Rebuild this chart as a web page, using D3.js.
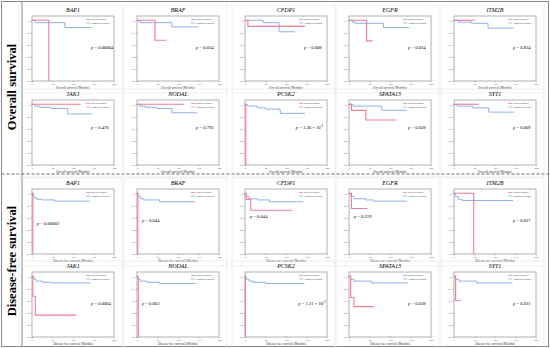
<!DOCTYPE html>
<html>
<head>
<meta charset="utf-8">
<script src="https://cdn.jsdelivr.net/npm/d3@7"></script>
<style>
body { margin: 0; background: #fff; }
text { font-family: "Liberation Serif", "DejaVu Serif", serif; }
</style>
</head>
<body>
<svg id="chart" width="550" height="348"></svg>
<script>
// gene panels, same order in both sections
var genes = ["BAP1", "BRAF", "CFDP1", "EGFR", "ITM2B", "JAK1", "NODAL", "PCSK2", "SPATA13", "SYT1"];

// log-rank p values ([mantissa, exponent] when written as a power of ten)
var osPvalues = ["0.00004", "0.034", "0.008", "0.034", "0.824", "0.470", "0.792", ["1.30", "-3"], "0.028", "0.009"];
var dfsPvalues = ["0.00002", "0.044", "0.044", "0.229", "0.027", "0.0004", "0.002", ["1.21", "-3"], "0.038", "0.021"];

// where the p value sits (fraction of plot width, fraction of plot height)
var osPpos = [[0.72, 0.5], [0.72, 0.5], [0.72, 0.5], [0.72, 0.5], [0.72, 0.5], [0.72, 0.45], [0.72, 0.45], [0.62, 0.45], [0.72, 0.45], [0.72, 0.45]];
var dfsPpos = [[0.06, 0.55], [0.06, 0.5], [0.06, 0.45], [0.06, 0.45], [0.72, 0.5], [0.72, 0.5], [0.06, 0.5], [0.65, 0.5], [0.72, 0.5], [0.72, 0.5]];

// Kaplan-Meier steps: [month, survival from that month on]; last point = end of follow-up
var osMutated = [
  [[0, 1], [41, 0]],
  [[0, 1], [44, 0.67], [72, 0.67]],
  [[0, 1], [7, 0.90], [146, 0.90]],
  [[0, 1], [43, 0.66], [57, 0.66]],
  [[0, 1], [51, 1]],
  [[0, 1], [119, 1]],
  [[0, 1], [115, 1]],
  [[0, 1], [2, 0]],
  [[0, 1], [6, 0.90], [41, 0.74], [115, 0.74]],
  [[0, 1], [60, 1]]
];
var osUnmutated = [
  [[0, 1], [7, 0.96], [80, 0.88], [145, 0.88]],
  [[0, 1], [5, 0.98], [9, 0.96], [85, 0.89], [150, 0.89]],
  [[0, 1], [44, 0.96], [83, 0.81], [122, 0.81]],
  [[0, 1], [8, 0.97], [16, 0.95], [84, 0.88], [147, 0.88]],
  [[0, 1], [10, 0.97], [43, 0.95], [83, 0.87], [145, 0.87]],
  [[0, 1], [6, 0.97], [18, 0.95], [47, 0.93], [87, 0.84], [146, 0.84]],
  [[0, 1], [6, 0.97], [20, 0.95], [48, 0.93], [85, 0.86], [146, 0.86]],
  [[0, 1], [6, 0.97], [30, 0.94], [50, 0.92], [86, 0.85], [146, 0.85]],
  [[0, 1], [10, 0.97], [80, 0.90], [140, 0.90]],
  [[0, 1], [8, 0.97], [45, 0.94], [85, 0.87], [146, 0.87]]
];
var dfsMutated = [
  [[0, 1], [2, 0]],
  [[0, 1], [2, 0]],
  [[0, 1], [3, 0.90], [14, 0.72], [115, 0.72]],
  [[0, 1], [6, 0.75], [45, 0.75]],
  [[0, 1], [48, 0]],
  [[0, 1], [2, 0.67], [8, 0.36], [108, 0.36]],
  [[0, 1], [3, 0]],
  [[0, 1], [1, 0]],
  [[0, 1], [4, 0.65], [12, 0.50], [60, 0.50]],
  [[0, 1], [4, 0.60], [16, 0.60]]
];
var dfsUnmutated = [
  [[0, 1], [3, 0.95], [6, 0.92], [12, 0.90], [25, 0.89], [55, 0.87], [142, 0.87]],
  [[0, 1], [3, 0.95], [8, 0.91], [15, 0.89], [55, 0.86], [142, 0.86]],
  [[0, 1], [3, 0.95], [10, 0.91], [30, 0.89], [60, 0.86], [142, 0.86]],
  [[0, 1], [4, 0.95], [12, 0.91], [40, 0.89], [60, 0.87], [142, 0.87]],
  [[0, 1], [3, 0.95], [10, 0.90], [20, 0.88], [144, 0.88]],
  [[0, 1], [5, 0.95], [10, 0.92], [25, 0.90], [50, 0.89], [143, 0.89]],
  [[0, 1], [3, 0.95], [8, 0.92], [25, 0.90], [55, 0.88], [143, 0.88]],
  [[0, 1], [3, 0.95], [10, 0.92], [20, 0.90], [50, 0.88], [145, 0.88]],
  [[0, 1], [4, 0.95], [12, 0.92], [55, 0.89], [143, 0.89]],
  [[0, 1], [4, 0.95], [12, 0.92], [55, 0.89], [143, 0.89]]
];

var xTicks = [0, 50, 100, 150, 200];
var yTicks = [0, 0.2, 0.4, 0.6, 0.8, 1.0];
var legendLabels = ["Mutated group", "Unmutated group"];
var sectionLabels = ["Overall survival", "Disease-free survival"];
var xLabels = ["Overall survival (Months)", "Disease-free survival (Months)"];

var colMut = "#f27c94", colUnmut = "#8fb1ea";

var svg = d3.select("#chart");

// outer frame and the section dividers
svg.append("rect").attr("x", 1.5).attr("y", 1.5).attr("width", 547).attr("height", 345)
  .attr("fill", "none").attr("stroke", "#888").attr("stroke-width", 1);
svg.append("line").attr("x1", 22).attr("x2", 22).attr("y1", 1.5).attr("y2", 346.5)
  .attr("stroke", "#888").attr("stroke-width", 1);
svg.append("line").attr("x1", 1.5).attr("x2", 548.5).attr("y1", 174).attr("y2", 174)
  .attr("stroke", "#666").attr("stroke-width", 1).attr("stroke-dasharray", "3,2");

sectionLabels.forEach(function(t, i) {
  svg.append("text")
    .attr("transform", "translate(16," + (i == 0 ? 87 : 261) + ") rotate(-90)")
    .attr("text-anchor", "middle")
    .attr("font-size", 12.5).attr("font-weight", "bold")
    .text(t);
});

// panel boxes (plot area)
var colX = [32, 137, 245, 349, 454];
var rowY = [16, 100, 189, 272];
var pw = 82, ph = 65;

var x = d3.scaleLinear().domain([0, 200]).range([0, pw]);
var y = d3.scaleLinear().domain([0, 1.07]).range([ph, 0]);

var line = d3.line()
  .x(function(d) { return x(d[0]); })
  .y(function(d) { return y(d[1]); })
  .curve(d3.curveStepAfter);

function drawPanel(gene, row, col, mut, unmut, p, ppos, xlab) {
  var g = svg.append("g").attr("transform", "translate(" + colX[col] + "," + rowY[row] + ")");

  // light frame of the sub-figure
  g.append("rect").attr("x", -13).attr("y", -11).attr("width", pw + 21).attr("height", ph + 23)
    .attr("fill", "none").attr("stroke", "#e4e4e4").attr("stroke-width", 0.6);

  g.append("text").attr("x", pw / 2).attr("y", -4)
    .attr("text-anchor", "middle").attr("font-size", 6).attr("font-style", "italic")
    .text(gene);

  g.append("rect").attr("width", pw).attr("height", ph)
    .attr("fill", "none").attr("stroke", "#666").attr("stroke-width", 0.5);

  var xa = g.append("g").attr("transform", "translate(0," + ph + ")")
    .call(d3.axisBottom(x).tickValues(xTicks).tickSize(1.2).tickPadding(0.8).tickFormat(d3.format("d")));
  var ya = g.append("g")
    .call(d3.axisLeft(y).tickValues(yTicks).tickSize(1.2).tickPadding(0.8).tickFormat(d3.format(".1f")));
  [xa, ya].forEach(function(a) {
    a.select(".domain").remove();
    a.selectAll("line").attr("stroke", "#666").attr("stroke-width", 0.4);
    a.selectAll("text").attr("font-size", 2.6).attr("fill", "#555").attr("font-family", "Liberation Sans, sans-serif");
  });

  g.append("text").attr("x", pw / 2).attr("y", ph + 7.5)
    .attr("text-anchor", "middle").attr("font-size", 3.2).attr("fill", "#333")
    .text(xlab);

  g.append("path").datum(unmut).attr("d", line)
    .attr("fill", "none").attr("stroke", colUnmut).attr("stroke-width", 1);
  g.append("path").datum(mut).attr("d", line)
    .attr("fill", "none").attr("stroke", colMut).attr("stroke-width", 1.1);

  // legend
  var lg = g.append("g").attr("transform", "translate(" + (pw * 0.66) + ",3.5)");
  [colMut, colUnmut].forEach(function(c, i) {
    lg.append("line").attr("x1", 0).attr("x2", 4).attr("y1", i * 3.5).attr("y2", i * 3.5)
      .attr("stroke", c).attr("stroke-width", 0.8);
    lg.append("text").attr("x", 5).attr("y", i * 3.5 + 0.9).attr("font-size", 2.6).attr("fill", "#444")
      .attr("font-family", "Liberation Sans, sans-serif")
      .text(legendLabels[i]);
  });

  var pt = g.append("text").attr("x", pw * ppos[0]).attr("y", ph * ppos[1])
    .attr("font-size", 4.6);
  pt.append("tspan").attr("font-style", "italic").text("p");
  if (Array.isArray(p)) {
    pt.append("tspan").text(" = " + p[0] + " \u00d7 10");
    pt.append("tspan").attr("font-size", 3).attr("dy", -1.8).text(p[1]);
  } else {
    pt.append("tspan").text(" = " + p);
  }
}

genes.forEach(function(gene, i) {
  var r = Math.floor(i / 5), c = i % 5;
  drawPanel(gene, r, c, osMutated[i], osUnmutated[i], osPvalues[i], osPpos[i], xLabels[0]);
  drawPanel(gene, r + 2, c, dfsMutated[i], dfsUnmutated[i], dfsPvalues[i], dfsPpos[i], xLabels[1]);
});
</script>
</body>
</html>
